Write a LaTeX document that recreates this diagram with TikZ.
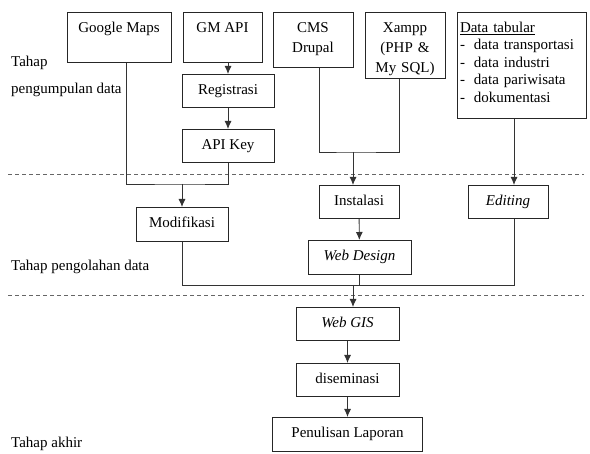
\documentclass[tikz,border=0pt]{standalone}
\usepackage{fontspec}
\setmainfont{Liberation Serif}
\usetikzlibrary{arrows.meta, calc}
\tikzset{>={Latex[length=8pt,width=7pt]}}
\tikzset{
  box/.style={draw=black!85, line width=0.9pt, anchor=north, align=center, inner xsep=2pt, inner ysep=0pt, text height=20pt},
  stage/.style={anchor=base west, align=left, inner sep=0pt},
  phase/.style={black!60, line width=1pt, dash pattern=on 4pt off 3pt},
  link/.style={black!80, line width=0.9pt}
}

\begin{document}
\begin{tikzpicture}[x=1pt, y=-1pt, font=\fontsize{15}{20}\selectfont]
\useasboundingbox (0,0) rectangle (590,454);

% Stage lines
\draw[phase] (8,175) -- (584,175);
\draw[phase] (8,296) -- (584,296);

% Stage labels
\node[stage] (stcollect) at (11,94) {Tahap\\[7pt]pengumpulan data};
\node[stage] (stprocess) at (11,271) {Tahap pengolahan data};
\node[stage] (stfinal) at (11,448) {Tahap akhir};

% Sources
\node[box, minimum width=104pt, text depth=30pt] (gmaps) at (119,12) {Google Maps};
\node[box, minimum width=79pt, text depth=30pt] (gmapi) at (222.5,12) {GM API};
\node[box, text width=76pt, text depth=35pt] (cms) at (313,12) {CMS\\Drupal};
\node[box, text width=76pt, text depth=46pt] (xampp) at (405,12) {Xampp\\(PHP \&\\My SQL)};
\node[box, align=left, text width=123pt, inner xsep=3pt, text depth=86pt, font=\fontsize{15}{17.5}\selectfont] (datatab) at (521.5,12) {\underline{Data tabular}\\-\hspace{9pt}data transportasi\\-\hspace{9pt}data industri\\-\hspace{9pt}data pariwisata\\-\hspace{9pt}dokumentasi};

\node[box, minimum width=92pt, text depth=13pt] (regis) at (228,74) {Registrasi};
\node[box, minimum width=92pt, text depth=13pt] (apikey) at (228,129) {API Key};

% Processing
\node[box, minimum width=92pt, text depth=14pt] (modif) at (182,207) {Modifikasi};
\node[box, minimum width=80pt, text depth=13pt] (instal) at (359,185) {Instalasi};
\node[box, minimum width=80pt, text depth=13pt] (editing) at (508,185) {\textit{Editing}};
\node[box, minimum width=103pt, text depth=14pt] (webdes) at (359.5,240) {\textit{Web Design}};

% Final
\node[box, minimum width=103pt, text depth=13pt] (webgis) at (347.5,307) {\textit{Web GIS}};
\node[box, minimum width=103pt, text depth=13pt] (disem) at (347.5,363) {diseminasi};
\node[box, minimum width=150pt, text depth=14pt] (penul) at (347.5,417) {Penulisan Laporan};

% Joints
\coordinate (j1) at (182,184);
\coordinate (j2) at (353,152);
\coordinate (j3) at (353,285);
\coordinate (j4) at (514,285);

% Connectors
\draw[link, ->] (gmapi.south -| regis.north) -- (regis);
\draw[link, ->] (regis) -- (apikey);
\draw[link] ([xshift=7pt]gmaps.south) |- (j1) -| (apikey);
\draw[link, ->] (j1) -- (modif);

\draw[link] ([xshift=6pt]cms.south) |- (j2) -| ([xshift=-6pt]xampp.south);
\draw[link, ->] (j2) -- (j2 |- instal.north);
\draw[link, ->] (j4 |- datatab.south) -- (j4 |- editing.north);

\draw[link, ->] (instal) -- (webdes);
\draw[link] (modif) |- (j4) -- (j4 |- editing.south);
\draw[link] (webdes) -- (webdes |- j3);
\draw[link, ->] (j3) -- (j3 |- webgis.north);

\draw[link, ->] (webgis) -- (disem);
\draw[link, ->] (disem) -- (penul);

\end{tikzpicture}
\end{document}
